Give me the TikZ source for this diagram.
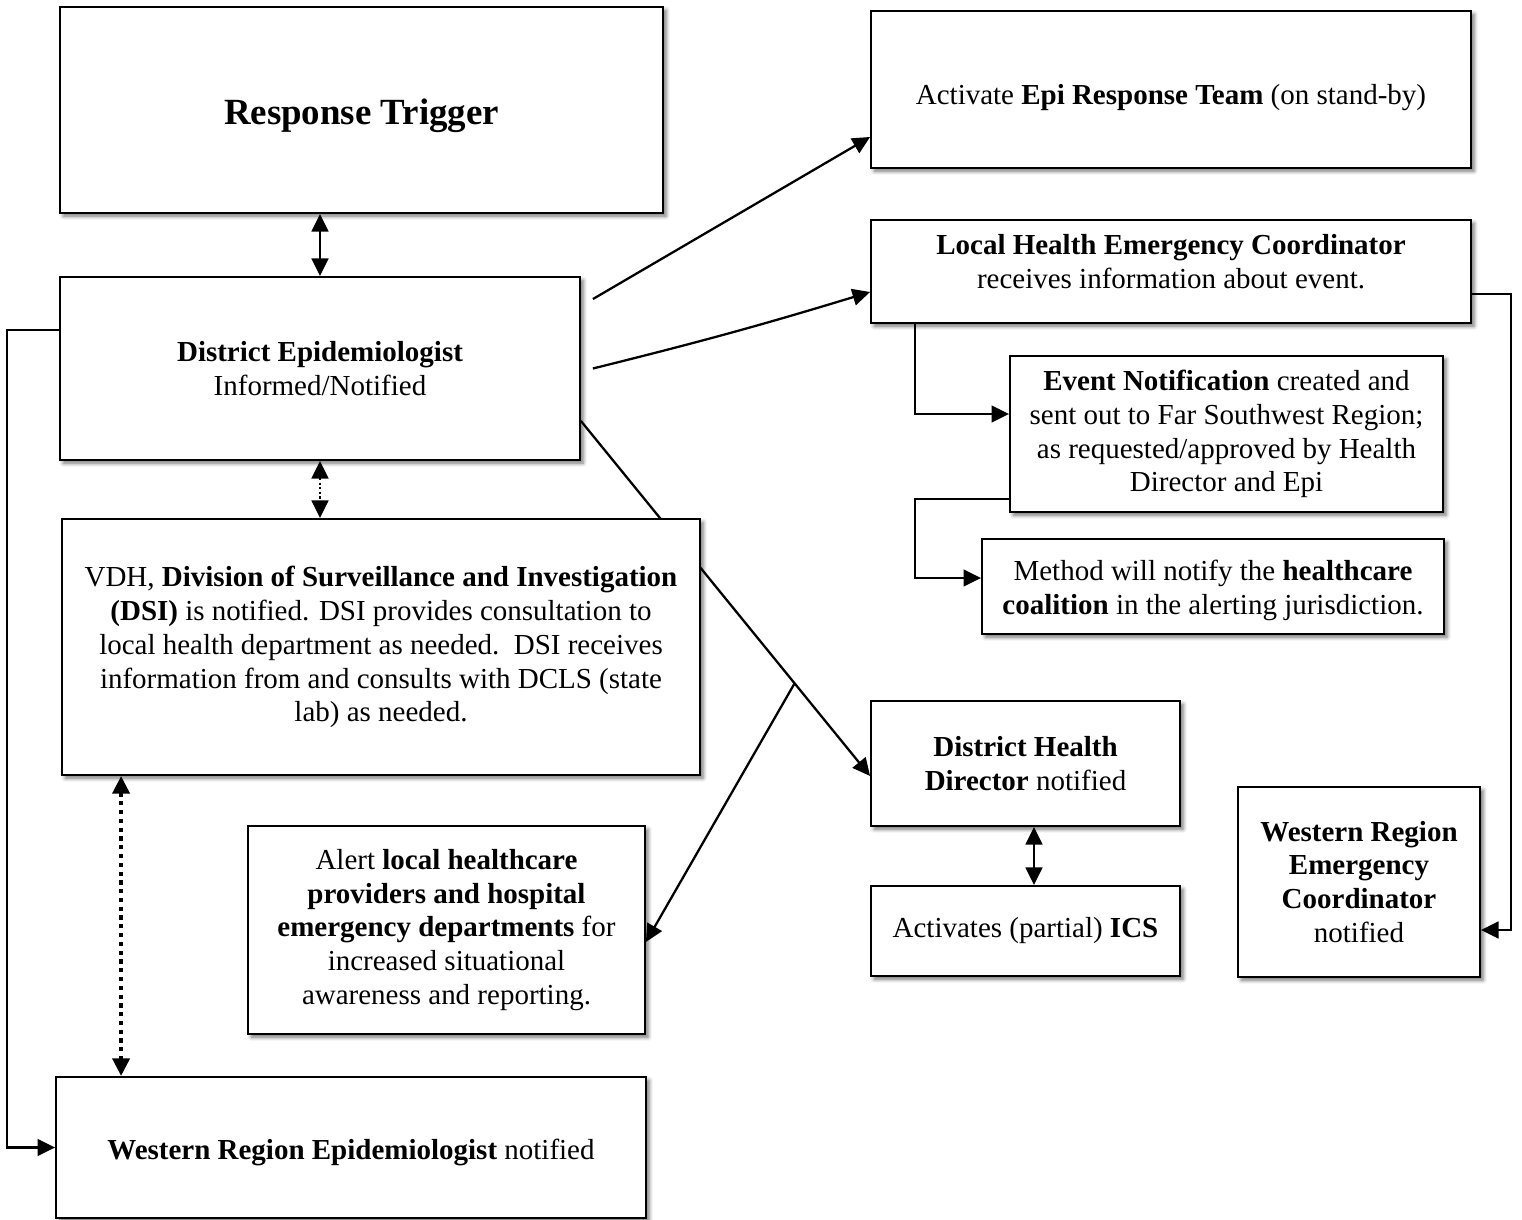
\documentclass[tikz,border=0pt]{standalone}
\usepackage{fontspec}
\setmainfont{Liberation Serif}
\usetikzlibrary{arrows.meta,calc,shadows.blur}
\pgfdeclarelayer{background}
\pgfsetlayers{background,main}
\newcommand{\shiftlines}[2]{\raisebox{#1}[\height][\depth]{\begin{tabular}{@{}c@{}}#2\end{tabular}}}
\newcommand{\shiftone}[2]{\raisebox{#1}[\height][\depth]{#2}}
\begin{document}
\begin{tikzpicture}[x=0.02cm,y=-0.02cm,
  box/.style={draw=black, line width=1.1pt, fill=white, inner sep=0pt, align=center,
    font=\fontsize{16.5}{19.3}\selectfont,
    blur shadow={shadow xshift=1.8pt, shadow yshift=-1.8pt, shadow blur radius=2.2pt, shadow opacity=55}},
  conn/.style={line width=1.3pt, draw=black},
  arr/.style={conn, -{Triangle[length=10pt,width=9.5pt]}},
  dbl/.style={conn, {Triangle[length=10pt,width=9.5pt]}-{Triangle[length=10pt,width=9.5pt]}},
  dotsmall/.style={dbl, dash pattern=on 1.3pt off 1.3pt},
  dotbig/.style={dbl, line width=2.4pt, dash pattern=on 2.4pt off 2.6pt}
]
\useasboundingbox (0,0) rectangle (1522,1220);

\node[box, minimum width=12.06cm, minimum height=4.12cm] (rt) at (361.5,110)
  {\shiftone{-0.12cm}{\fontsize{21}{25}\selectfont\textbf{Response Trigger}}};
\node[box, minimum width=10.4cm, minimum height=3.66cm] (de) at (320,368.5)
  {\textbf{District Epidemiologist}\\Informed/Notified};
\node[box, minimum width=12.76cm, minimum height=5.12cm] (dsi) at (381,647)
  {VDH, \textbf{Division of Surveillance and Investigation}\\
   \textbf{(DSI)} is notified. DSI provides consultation to\\
   local health department as needed.\ \ DSI receives\\
   information from and consults with DCLS (state\\
   lab) as needed.};
\node[box, minimum width=7.94cm, minimum height=4.16cm] (alert) at (446.5,930)
  {Alert \textbf{local healthcare}\\
   \textbf{providers and hospital}\\
   \textbf{emergency departments} for\\
   increased situational\\
   awareness and reporting.};
\node[box, minimum width=11.8cm, minimum height=2.82cm] (wre) at (351,1147.5)
  {\shiftone{-0.1cm}{\textbf{Western Region Epidemiologist} notified}};
\node[box, minimum width=12cm, minimum height=3.14cm] (epi) at (1171,89.5)
  {\shiftone{-0.16cm}{Activate \textbf{Epi Response Team} (on stand-by)}};
\node[box, minimum width=12cm, minimum height=2.06cm] (lhec) at (1171,271.5)
  {\shiftlines{0.14cm}{\textbf{Local Health Emergency Coordinator}\\receives information about event.}};
\node[box, minimum width=8.66cm, minimum height=3.12cm] (evt) at (1226.5,434)
  {\textbf{Event Notification} created and\\
   sent out to Far Southwest Region;\\
   as requested/approved by Health\\
   Director and Epi};
\node[box, minimum width=9.24cm, minimum height=1.9cm] (meth) at (1213,586.5)
  {\shiftlines{-0.08cm}{Method will notify the \textbf{healthcare}\\
   \textbf{coalition} in the alerting jurisdiction.}};
\node[box, minimum width=6.18cm, minimum height=2.5cm] (dhd) at (1025.5,763.5)
  {\textbf{District Health}\\\textbf{Director} notified};
\node[box, minimum width=6.18cm, minimum height=1.8cm] (ics) at (1025.5,931)
  {Activates (partial) \textbf{ICS}};
\node[box, minimum width=4.84cm, minimum height=3.8cm] (wrec) at (1359,882)
  {\textbf{Western Region}\\\textbf{Emergency}\\\textbf{Coordinator}\\notified};

\begin{pgfonlayer}{background}
  \coordinate (d1) at ([xshift=1.2cm]dsi.south west);
  \coordinate (dh) at ([xshift=0.17cm]dhd.south);
  \coordinate (p1) at ([yshift=0.8cm]de.south east);
  \coordinate (p2) at ([yshift=-0.25cm]dhd.west);
  \coordinate (br) at ($(p1)!0.739!(p2)$);

  \draw[dbl] (de.north |- rt.south) -- (de.north);
  \draw[dotsmall] (de.south) -- (de.south |- dsi.north);
  \draw[dotbig] (d1) -- (d1 |- wre.north);
  \draw[arr] ([yshift=0.77cm]de.west) -- ++(-52,0) |- (wre.west);
  \draw[arr] ([shift={(12,23)}]de.north east) -- ([yshift=-0.95cm]epi.west);
  \draw[arr] ([xshift=0.24cm]de.east) to[bend right=1.5] ([yshift=-0.41cm]lhec.west);
  \draw[arr] (p1) -- (p2);
  \draw[arr] (br) -- ([yshift=-0.24cm]alert.east);
  \draw[arr] ([xshift=0.9cm]lhec.south west) |- ([yshift=0.4cm]evt.west);
  \draw[arr] ([yshift=0.28cm]evt.south west) -- ++(-94,0) |- ([yshift=0.17cm]meth.west);
  \draw[arr] ([yshift=-0.45cm]lhec.east) -- ++(39,0) |- ([yshift=-0.96cm]wrec.east);
  \draw[dbl] (dh) -- (dh |- ics.north);
\end{pgfonlayer}
\end{tikzpicture}
\end{document}
